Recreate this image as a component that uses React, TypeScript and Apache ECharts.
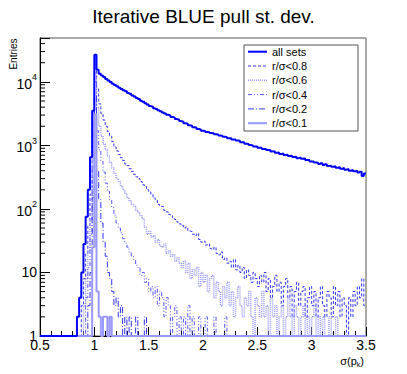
import React, { useEffect, useRef } from "react";
import * as echarts from "echarts";

// ---- data ----
const BIN_START = 0.84; // lower edge of the first listed bin
const BIN_WIDTH = 0.02;
const X_MIN = 0.5;
const X_MAX = 3.5;
const Y_MIN = 1;
const Y_MAX = 49000;
const X_TICK_STEP = 0.5;

const seriesNames = ["all sets", "r/σ<0.8", "r/σ<0.6", "r/σ<0.4", "r/σ<0.2", "r/σ<0.1"];

const allSets = [
  2, 4, 10, 28, 75, 200, 650, 3500,
  26600, 15500, 13400, 12600, 11900, 11100, 10500, 9950, 9350, 8900,
  8550, 8050, 7750, 7350, 7100, 6700, 6480, 6120, 5880, 5560,
  5350, 5060, 4880, 4600, 4420, 4150, 4050, 3840, 3740, 3560,
  3440, 3280, 3180, 3030, 2960, 2810, 2760, 2600, 2540, 2410,
  2350, 2230, 2190, 2070, 2040, 1930, 1910, 1810, 1780, 1700,
  1690, 1630, 1610, 1560, 1550, 1500, 1480, 1430, 1410, 1370,
  1360, 1300, 1300, 1240, 1240, 1190, 1180, 1120, 1120, 1060,
  1050, 1010, 1000, 960, 960, 920, 920, 880, 880, 845,
  850, 805, 810, 765, 770, 735, 745, 705, 710, 680,
  685, 655, 665, 630, 645, 615, 625, 590, 590, 560,
  560, 540, 535, 510, 525, 490, 505, 475, 480, 460,
  470, 445, 455, 430, 440, 415, 425, 400, 410, 390,
  400, 375, 385, 330, 360,
];

const lt08 = [
  0, 1, 3, 8, 20, 55, 170, 1500,
  19000, 8000, 4500, 3200, 2500, 2000, 1650, 1400, 1150, 950,
  820, 720, 640, 580, 510, 480, 430, 390, 350, 320,
  300, 270, 240, 225, 200, 185, 170, 150, 140, 118,
  110, 108, 95, 90, 82, 78, 70, 68, 62, 58,
  55, 50, 52, 45, 44, 40, 38, 41, 33, 30,
  31, 27, 28, 24, 23, 25, 20, 19, 21, 16,
  17, 14, 15, 12, 16, 11, 13, 10, 12, 8,
  11, 9, 7, 10, 8, 6, 9, 7, 10, 5,
  8, 4, 6, 9, 5, 7, 3, 6, 8, 4,
  6, 2, 5, 7, 3, 5, 6, 2, 4, 6,
  3, 5, 2, 4, 6, 3, 2, 5, 4, 2,
  6, 3, 5, 2, 4, 3, 1, 4, 2, 5,
  3, 6, 4, 8, 3,
];

const lt06 = [
  0, 0, 1, 3, 8, 22, 70, 700,
  14000, 4000, 2000, 1400, 1050, 850, 680, 540, 440, 360,
  300, 270, 230, 200, 175, 150, 135, 120, 110, 95,
  88, 78, 70, 52, 40, 44, 36, 38, 30, 33,
  26, 25, 28, 20, 22, 18, 19, 15, 17, 14,
  12, 15, 10, 14, 8, 11, 9, 12, 6, 10,
  7, 9, 5, 8, 9, 4, 7, 5, 3, 6,
  4, 7, 3, 5, 2, 4, 6, 3, 2, 4,
  3, 5, 2, 1, 4, 3, 2, 5, 2, 3,
  1, 4, 2, 3, 1, 2, 3, 1, 2, 4,
  2, 1, 3, 2, 1, 2, 3, 1, 2, 1,
  2, 3, 1, 2, 0, 2, 1, 0, 2, 0,
  1, 2,
];

const lt04 = [
  0, 0, 0, 1, 4, 12, 40, 450,
  10000, 1700, 850, 560, 380, 255, 190, 140, 105, 80,
  60, 50, 42, 34, 29, 25, 21, 18, 16, 13,
  12, 9, 10, 7, 8, 5, 6, 4, 6, 3,
  5, 4, 2, 4, 3, 1, 2, 3, 1, 2,
  0, 2, 1, 3, 0, 2, 1, 0, 2, 1,
  0, 2, 0, 1, 0, 2, 0, 0, 1, 0,
  2,
];

const lt02 = [
  0, 0, 0, 0, 1, 3, 10, 150,
  6000, 400, 140, 60, 30, 18, 10, 8, 5, 3,
  4, 2, 3, 1, 2, 0, 2, 1, 0, 2,
  0, 1, 0, 2,
];

const lt01 = [
  0, 0, 0, 0, 0, 0, 1, 25,
  3000, 5, 2, 0, 2, 2, 0, 2,
];

const seriesCounts = [allSets, lt08, lt06, lt04, lt02, lt01];

const decades = [1, 10, 100, 1000, 10000];
const minorMultipliers = [2, 3, 4, 5, 6, 7, 8, 9];

// ---- styles ----
const FONT = "Liberation Sans, Arial, Helvetica, sans-serif";
const seriesStyles: { color: string; width: number; dash: number[] | null; z: number }[] = [
  { color: "#0000ff", width: 2, dash: null, z: 5 },
  { color: "#3333ff", width: 1, dash: [3, 2], z: 3 },
  { color: "#9999ff", width: 1.5, dash: [1, 1], z: 3 },
  { color: "#5555ff", width: 1, dash: [4, 2, 1, 2, 1, 2], z: 3 },
  { color: "#3333ff", width: 1, dash: [6, 2, 1, 2], z: 3 },
  { color: "#9999ff", width: 2, dash: null, z: 4 },
];

function histPoints(counts: number[]) {
  const pts: number[][] = [
    [X_MIN, Y_MIN],
    [BIN_START, Y_MIN],
  ];
  counts.forEach((c, i) => {
    const lo = +(BIN_START + i * BIN_WIDTH).toFixed(4);
    const hi = +(BIN_START + (i + 1) * BIN_WIDTH).toFixed(4);
    const v = Math.max(c, Y_MIN);
    pts.push([lo, v], [hi, v]);
  });
  const end = +(BIN_START + counts.length * BIN_WIDTH).toFixed(4);
  if (end < X_MAX - 1e-9) pts.push([end, Y_MIN], [X_MAX, Y_MIN]);
  return pts;
}

export default function App() {
  const ref = useRef<HTMLDivElement>(null);

  useEffect(() => {
    if (!ref.current) return;
    const chart = echarts.init(ref.current, null, { renderer: "svg" });

    const minorTicks: number[][] = [];
    decades.forEach((d) =>
      minorMultipliers.forEach((m) => {
        if (d * m < Y_MAX) minorTicks.push([X_MIN, d * m]);
      })
    );

    const histSeries = seriesNames.map((name, i) => ({
      name,
      type: "line",
      data: histPoints(seriesCounts[i]),
      showSymbol: false,
      symbol: "none",
      z: seriesStyles[i].z,
      lineStyle: {
        color: seriesStyles[i].color,
        width: seriesStyles[i].width,
        type: seriesStyles[i].dash ? seriesStyles[i].dash : "solid",
      },
      itemStyle: { color: seriesStyles[i].color },
      clip: true,
      silent: true,
    }));

    // legend drawn as graphic (box, line samples, labels)
    const LEG_X = 244, LEG_Y = 45, LEG_W = 114, LEG_H = 86;
    const ROW0 = 51.7, ROW_STEP = 14.3;
    const legendChildren: any[] = [
      {
        type: "rect",
        shape: { x: LEG_X, y: LEG_Y, width: LEG_W, height: LEG_H },
        style: { fill: "#ffffff", stroke: "#555", lineWidth: 1 },
      },
    ];
    seriesNames.forEach((name, i) => {
      const y = ROW0 + i * ROW_STEP;
      const st = seriesStyles[i];
      legendChildren.push({
        type: "line",
        shape: { x1: 248, y1: y, x2: 267, y2: y },
        style: { stroke: st.color, lineWidth: st.width, lineDash: st.dash || null },
      });
      legendChildren.push({
        type: "text",
        x: 272,
        y,
        style: {
          text: name,
          fontFamily: FONT,
          fontSize: 11,
          fill: "#000",
          align: "left",
          verticalAlign: "middle",
        },
      });
    });

    const option: any = {
      animation: false,
      backgroundColor: "#ffffff",
      title: {
        text: "Iterative BLUE pull st. dev.",
        left: "center",
        top: 2,
        textStyle: { fontFamily: FONT, fontSize: 19, fontWeight: "normal", color: "#000" },
      },
      grid: {
        left: 40,
        right: 41,
        top: 38,
        bottom: 38,
        show: true,
        borderColor: "#555",
        borderWidth: 1,
        backgroundColor: "transparent",
      },
      graphic: [
        { type: "group", z: 20, children: legendChildren },
        {
          type: "text",
          x: 13,
          y: 54,
          rotation: Math.PI / 2,
          style: {
            text: "Entries",
            fontFamily: FONT,
            fontSize: 10,
            fill: "#000",
            align: "center",
            verticalAlign: "middle",
          },
        },
        {
          type: "text",
          x: 364,
          y: 361,
          style: {
            text: "{a|σ(p}{k|k}{a|)}",
            align: "right",
            verticalAlign: "middle",
            rich: {
              a: { fontFamily: FONT, fontSize: 11, fill: "#000", color: "#000", lineHeight: 13 },
              k: {
                fontFamily: FONT,
                fontSize: 7,
                fill: "#000",
                color: "#000",
                lineHeight: 13,
                verticalAlign: "bottom",
                padding: [5, 0, 0, 0],
              },
            },
          },
        },
      ],
      xAxis: {
        type: "value",
        min: X_MIN,
        max: X_MAX,
        interval: X_TICK_STEP,
        axisLine: { show: true, lineStyle: { color: "#000", width: 1 } },
        axisTick: { show: true, inside: true, length: 9, lineStyle: { color: "#000" } },
        minorTick: { show: true, splitNumber: 5, length: 5, lineStyle: { color: "#000" } },
        splitLine: { show: false },
        axisLabel: {
          fontFamily: FONT,
          fontSize: 14,
          color: "#000",
          margin: 2,
          formatter: (v: number) => String(+v.toFixed(2)),
        },
      },
      yAxis: {
        type: "log",
        logBase: 10,
        min: Y_MIN,
        max: Y_MAX,
        axisLine: { show: true, lineStyle: { color: "#000", width: 1 } },
        axisTick: { show: true, inside: true, length: 10, lineStyle: { color: "#000" } },
        splitLine: { show: false },
        axisLabel: {
          margin: 3,
          color: "#000",
          fontFamily: FONT,
          fontSize: 14,
          formatter: (v: number) => {
            const lg = Math.log10(v);
            const e = Math.round(lg);
            if (Math.abs(lg - e) > 1e-6) return "";
            if (e === 0) return "1";
            if (e === 1) return "10";
            return `{b|10}{s|${e}}`;
          },
          rich: {
            b: { fontFamily: FONT, fontSize: 14, color: "#000", lineHeight: 18, verticalAlign: "bottom" },
            s: { fontFamily: FONT, fontSize: 9, color: "#000", lineHeight: 18, verticalAlign: "top", padding: [0, 0, 6, 0] },
          },
        },
      },
      series: [
        ...histSeries,
        {
          type: "custom",
          name: "yMinorTicks",
          silent: true,
          z: 6,
          data: minorTicks,
          encode: { x: 0, y: 1 },
          renderItem: (_params: any, api: any) => {
            const p = api.coord([api.value(0), api.value(1)]);
            return {
              type: "line",
              shape: { x1: p[0], y1: p[1], x2: p[0] + 5, y2: p[1] },
              style: { stroke: "#000", lineWidth: 1 },
            };
          },
        },
      ],
    };

    chart.setOption(option);
    return () => chart.dispose();
  }, []);

  return (
    <div
      ref={ref}
      style={{ position: "fixed", left: 0, top: 0, width: 407, height: 374, background: "#fff" }}
    />
  );
}
